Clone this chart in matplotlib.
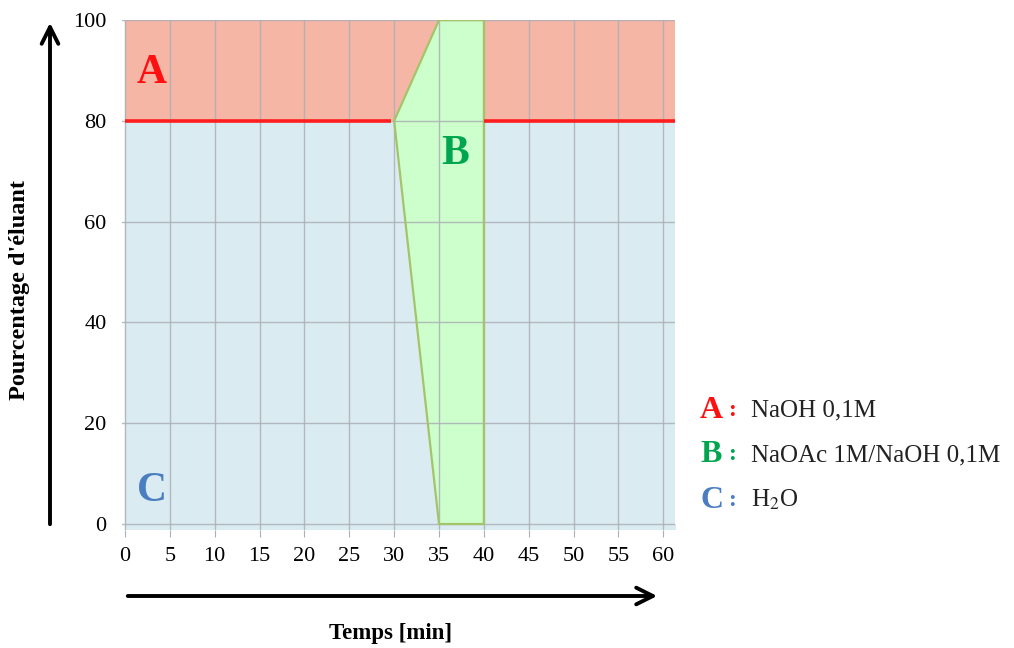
import matplotlib
matplotlib.use("Agg")
import matplotlib.pyplot as plt
import numpy as np

plt.rcParams["font.family"] = ["Liberation Serif", "DejaVu Serif"]

# gradient programme (percent of each eluent vs time)
temps = [0, 30, 35, 40, 40, 62]
pct_C = [80, 80, 0, 0, 80, 80]
pct_B = [0, 0, 100, 100, 0, 0]
pct_A = [20, 20, 0, 0, 20, 20]

x_ticks = list(range(0, 61, 5))
y_ticks = list(range(0, 101, 20))

col_A = "#F5B6A6"
col_B = "#CCFFCC"
col_C = "#DAEBF2"

fig = plt.figure(figsize=(10.14, 6.48), dpi=100)
ax = fig.add_axes([0.1203, 0.182, 0.5454, 0.787])

t = np.array(temps, dtype=float)
c = np.array(pct_C, dtype=float)
b = np.array(pct_B, dtype=float)
a = np.array(pct_A, dtype=float)

ax.stackplot(t, c, b, a, colors=[col_C, col_B, col_A], linewidth=0, zorder=1)
# extend the bottom band a little under zero like the original
ax.fill_between(t, -1.2, 0, color=col_C, linewidth=0, zorder=1)

# red line where no B flows
ax.plot(t[:2] - [0, 0.4], c[:2], color="#FF1E1E", lw=2.6, zorder=4, solid_capstyle="butt")
ax.plot(t[4:], c[4:], color="#FF1E1E", lw=2.6, zorder=4, solid_capstyle="butt")

# borders of B
ax.plot(t[1:5], c[1:5], color="#A4C46A", lw=1.6, zorder=3)
ax.plot(t[1:5], (c + b)[1:5], color="#A4C46A", lw=1.6, zorder=3)

ax.set_xlim(-0.33, 61.3)
ax.set_ylim(-1.2, 100)
ax.set_xticks(x_ticks)
ax.set_yticks(y_ticks)
ax.set_axisbelow(False)
ax.grid(True, color="#ABB0B5", lw=1.0, alpha=0.85)
for s in ax.spines.values():
    s.set_visible(False)
ax.tick_params(axis="x", length=5, color="#ABB0B5", labelsize=16, pad=7)
ax.tick_params(axis="y", length=0, labelsize=16, pad=11)

ax.text(3, 89.5, "A", color="#FF1010", fontsize=30, fontweight="bold", ha="center", va="center", zorder=5)
ax.text(36.8, 73.5, "B", color="#00A550", fontsize=30, fontweight="bold", ha="center", va="center", zorder=5)
ax.text(3, 6.5, "C", color="#4A7EC0", fontsize=30, fontweight="bold", ha="center", va="center", zorder=5)

# arrows outside the axes
fig.patches.append(matplotlib.patches.FancyArrowPatch(
    (50 / 1014, 1 - 527 / 648), (50 / 1014, 1 - 20 / 648), transform=fig.transFigure,
    arrowstyle="->,head_length=8,head_width=4", lw=2.8, color="black", mutation_scale=1.5))
fig.patches.append(matplotlib.patches.FancyArrowPatch(
    (125 / 1014, 1 - 596 / 648), (660 / 1014, 1 - 596 / 648), transform=fig.transFigure,
    arrowstyle="->,head_length=8,head_width=4", lw=2.8, color="black", mutation_scale=1.5))

fig.text(20 / 1014, 1 - 290 / 648, "Pourcentage d'éluant", rotation=90, ha="center", va="center",
         fontsize=17.5, fontweight="bold")
fig.text(391 / 1014, 1 - 633 / 648, "Temps [min]", ha="center", va="center", fontsize=16.5, fontweight="bold")

# legend
leg = [("A", "#FF1010", "NaOH 0,1M", 410),
       ("B", "#00A550", "NaOAc 1M/NaOH 0,1M", 455),
       ("C", "#4A7EC0", "H$_2$O", 500)]
for letter, col, txt, yp in leg:
    fig.text(700 / 1014, 1 - yp / 648, letter, color=col, fontsize=23, fontweight="bold", va="center")
    fig.text(728 / 1014, 1 - yp / 648, ":", color=col, fontsize=17, fontweight="bold", va="center")
    fig.text(751 / 1014, 1 - yp / 648, txt, color="#222222", fontsize=18, va="center",
             math_fontfamily="stix")

fig.savefig("out.png", dpi=100)
